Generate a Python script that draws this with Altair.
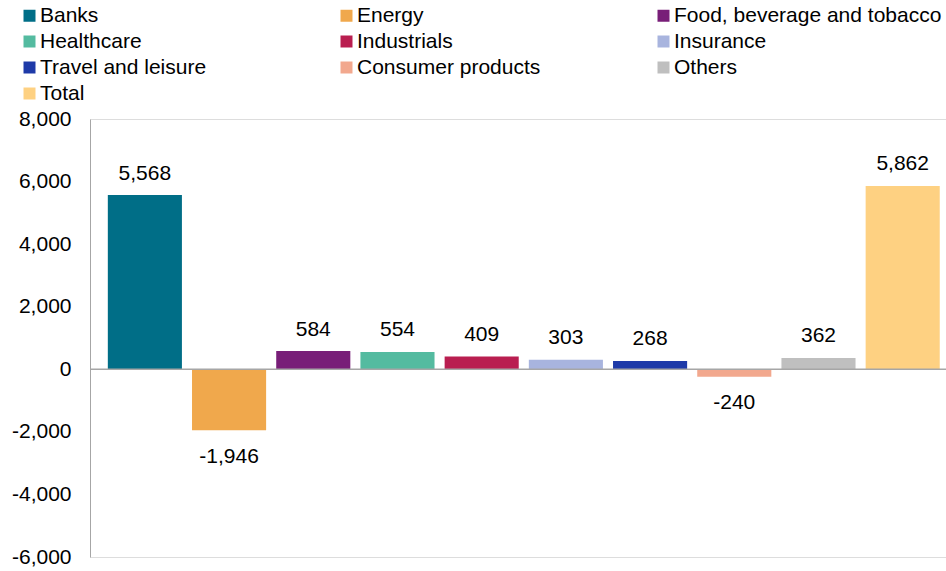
import altair as alt
import pandas as pd

categories = ["Banks", "Energy", "Food, beverage and tobacco", "Healthcare", "Industrials",
              "Insurance", "Travel and leisure", "Consumer products", "Others", "Total"]
values = [5568, -1946, 584, 554, 409, 303, 268, -240, 362, 5862]
colors = ["#006E87", "#F0A84C", "#781E78", "#54BBA0", "#B91E50",
          "#A8B4DE", "#1E3AA8", "#F2A88E", "#BFBFBF", "#FED182"]
y_ticks = [-6000, -4000, -2000, 0, 2000, 4000, 6000, 8000]

df = pd.DataFrame({"category": categories, "value": values})
df["label"] = [f"{v:,}" for v in values]

FONT = "Liberation Sans"

x_enc = alt.X("category:N", sort=categories, axis=None,
              scale=alt.Scale(paddingInner=0.12, paddingOuter=0.143, align=0.74))
y_scale = alt.Scale(domain=[-6000, 8000], nice=False, zero=False)

bars = alt.Chart(df).mark_bar().encode(
    x=x_enc,
    y=alt.Y("value:Q", scale=y_scale, title=None,
            axis=alt.Axis(values=y_ticks,
                          labelExpr="replace(format(datum.value, ','), '\u2212', '-')",
                          grid=False, ticks=False, domainColor="#A6A6A6", domainWidth=1,
                          labelFontSize=21, labelColor="#000000", labelPadding=19, labelFont=FONT)),
    color=alt.Color("category:N", sort=categories,
                    scale=alt.Scale(domain=categories, range=colors),
                    legend=alt.Legend(orient="none", legendX=-71, legendY=-114, columns=3,
                                      direction="horizontal",
                                      title=None, symbolType="square", symbolSize=144,
                                      symbolStrokeWidth=0, labelFontSize=21, labelFont=FONT,
                                      labelColor="#000000", labelOffset=0, labelLimit=500,
                                      rowPadding=4, columnPadding=28, gridAlign="all", padding=0)),
)

zero = alt.Chart(pd.DataFrame({"z": [0]})).mark_rule(color="#A6A6A6", strokeWidth=1.5).encode(
    y=alt.Y("z:Q", scale=y_scale),
    x=alt.value(0), x2=alt.value(856),
)

pos_labels = alt.Chart(df).transform_filter("datum.value >= 0").mark_text(
    baseline="alphabetic", dy=-15.5, fontSize=21, font=FONT, color="#000000"
).encode(x=x_enc, y=alt.Y("value:Q", scale=y_scale), text="label:N")

neg_labels = alt.Chart(df).transform_filter("datum.value < 0").mark_text(
    baseline="alphabetic", dy=32.6, fontSize=21, font=FONT, color="#000000"
).encode(x=x_enc, y=alt.Y("value:Q", scale=y_scale), text="label:N")

chart = alt.layer(bars, zero, pos_labels, neg_labels).properties(
    width=856, height=438,
    autosize=alt.AutoSizeParams(type="none"),
    padding={"left": 90, "top": 119, "right": 0, "bottom": 14},
).configure_view(stroke=None).configure(font=FONT)

chart.save("out.html", embed_options={"renderer": "svg", "actions": False})
